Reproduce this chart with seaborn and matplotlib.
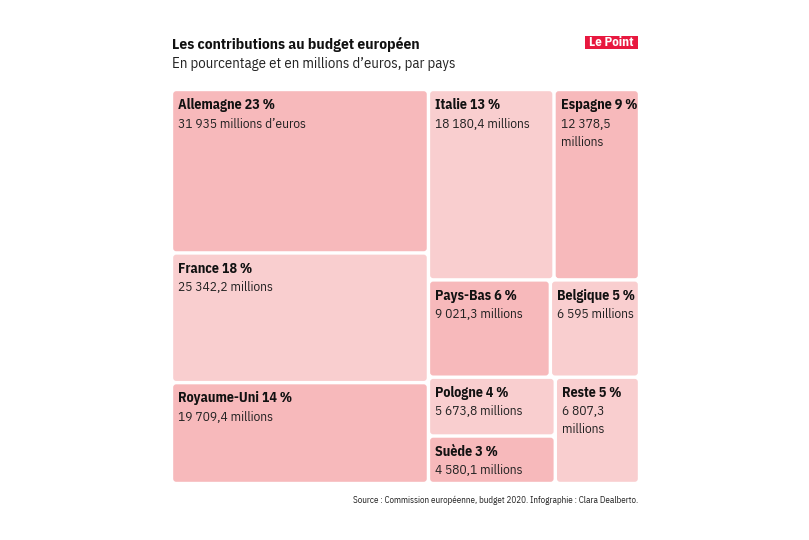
import matplotlib
matplotlib.use("Agg")
import matplotlib.pyplot as plt
from matplotlib.patches import FancyBboxPatch, Rectangle
import seaborn as sns

# ---- data ----
pays = ["Allemagne", "France", "Royaume-Uni", "Italie", "Espagne",
        "Pays-Bas", "Belgique", "Pologne", "Suède", "Reste"]
pourcentages = [23, 18, 14, 13, 9, 6, 5, 4, 3, 5]
millions = [31935, 25342.2, 19709.4, 18180.4, 12378.5,
            9021.3, 6595, 5673.8, 4580.1, 6807.3]
suffixes = [" millions d’euros", " millions", " millions", " millions", "\nmillions",
            " millions", " millions", " millions", " millions", "\nmillions"]
teinte = ["fonce", "clair", "fonce", "clair", "fonce",
          "fonce", "clair", "clair", "fonce", "clair"]

# treemap structure (indices into the arrays above)
structure = ("h", [("v", [0, 1, 2]),
                   ("v", [("h", [3, 4]),
                          ("h", [5, 6]),
                          ("h", [("v", [7, 8]), 9])])])

couleurs = {"fonce": "#f7b9bb", "clair": "#f9cecf"}

sns.set_theme(style="white")
FONT = ["IBM Plex Sans Condensed", "DejaVu Sans"]
plt.rcParams["font.family"] = FONT


def total(node):
    if isinstance(node, int):
        return millions[node]
    return sum(total(c) for c in node[1])


rects = {}


def layout(node, x, y, w, h):
    if isinstance(node, int):
        rects[node] = (x, y, w, h)
        return
    d, kids = node
    s = total(node)
    pos = 0.0
    for k in kids:
        f = total(k) / s
        if d == "h":
            layout(k, x + pos * w, y, w * f, h)
        else:
            layout(k, x, y + pos * h, w, h * f)
        pos += f


layout(structure, 0.0, 0.0, 1.0, 1.0)


def fr(v):
    if float(v).is_integer():
        s = f"{int(v):,}".replace(",", " ")
    else:
        s = f"{v:,.1f}".replace(",", " ").replace(".", ",")
    return s


W, H = 809, 540
fig = plt.figure(figsize=(W / 100, H / 100), dpi=100)
fig.patch.set_facecolor("white")
renderer = fig.canvas.get_renderer()


def fit_size(text, target_px, weight="normal", base=10.0):
    t = fig.text(0, 0, text, fontsize=base, fontweight=weight)
    w = t.get_window_extent(renderer).width
    t.remove()
    return base * target_px / w


fs_name = fit_size("Allemagne 23\u2009%", 92, "bold") * 1.05
fs_val = fit_size("31 935 millions d’euros", 122) * 1.05
fs_title = fit_size("Les contributions au budget européen", 239, "bold") * 1.03
fs_sub = fit_size("En pourcentage et en millions d’euros, par pays", 276) * 1.02
fs_src = fit_size("Source : Commission européenne, budget 2020. Infographie : Clara Dealberto.", 286)

x0p, x1p, y0p, y1p = 171.5, 639.5, 89.5, 483.5
ax = fig.add_axes([x0p / W, 1 - y1p / H, (x1p - x0p) / W, (y1p - y0p) / H])
ax.set_xlim(0, 1)
ax.set_ylim(1, 0)
ax.axis("off")

pw, ph = x1p - x0p, y1p - y0p
gx, gy = 1.7 / pw, 1.7 / ph

for i in range(len(pays)):
    x, y, w, h = rects[i]
    p = FancyBboxPatch((x + gx, y + gy), w - 2 * gx, h - 2 * gy,
                       boxstyle=f"round,pad=0,rounding_size={3 / pw}",
                       mutation_aspect=pw / ph,
                       facecolor=couleurs[teinte[i]], edgecolor="none")
    ax.add_patch(p)
    ax.annotate(f"{pays[i]} {pourcentages[i]}\u2009%", (x + gx, y + gy),
                xytext=(3.6, -5.0), textcoords="offset points",
                ha="left", va="top", fontsize=fs_name, fontweight="bold",
                color="#111111")
    ax.annotate(fr(millions[i]) + suffixes[i], (x + gx, y + gy),
                xytext=(3.6, -19.0), textcoords="offset points",
                ha="left", va="top", fontsize=fs_val, color="#222222",
                linespacing=1.5)

# titles
fig.text(172 / W, 1 - 44 / H, "Les contributions au budget européen",
         ha="left", va="center", fontsize=fs_title, fontweight="bold", color="#111111")
fig.text(172 / W, 1 - 64 / H, "En pourcentage et en millions d’euros, par pays",
         ha="left", va="center", fontsize=fs_sub, color="#222222")

# logo
fig.add_artist(Rectangle((585 / W, 1 - 48.5 / H), 53 / W, 13 / H,
                         transform=fig.transFigure, facecolor="#e8183f",
                         edgecolor="none"))
fig.text(611.5 / W, 1 - 42.5 / H, "Le Point", ha="center", va="center",
         fontsize=fit_size("Le Point", 45, "bold"), fontweight="bold", color="white")

# source
fig.text(638 / W, 1 - 500 / H,
         "Source : Commission européenne, budget 2020. Infographie : Clara Dealberto.",
         ha="right", va="center", fontsize=fs_src, color="#222222")

fig.savefig("out.png", dpi=100, facecolor="white")
